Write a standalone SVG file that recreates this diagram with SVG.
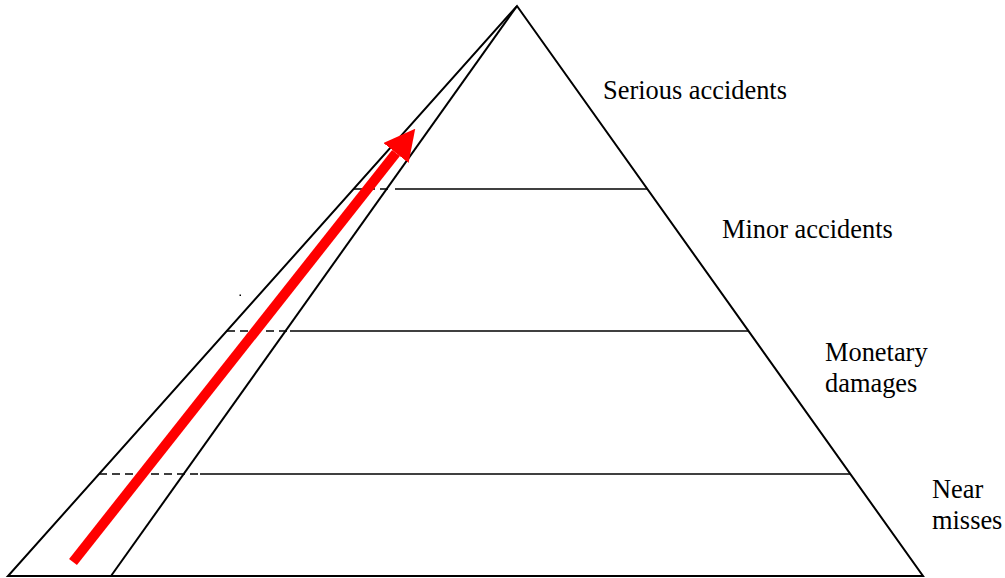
<svg xmlns="http://www.w3.org/2000/svg" width="1005" height="578" viewBox="0 0 1005 578">
<style>
.ol{fill:none;stroke:#000;stroke-width:2;stroke-linejoin:miter}
.lv{fill:none;stroke:#000;stroke-width:1.6}
.ds{fill:none;stroke:#000;stroke-width:1.6;stroke-dasharray:8 5}
.lb{font-family:"Liberation Serif","Times New Roman",serif;font-size:26.4px;fill:#000}
</style>
<defs>
<marker id="ah" markerUnits="userSpaceOnUse" viewBox="0 0 31 32" refX="0" refY="16" markerWidth="31" markerHeight="32" orient="auto">
<path d="M0,0 L31,16 L0,32 Z" fill="#ff0000"/>
</marker>
</defs>
<rect width="1005" height="578" fill="#fff"/>
<g id="pyramid">
<polygon class="ol" points="517,6 923,576 8,576"/>
<line class="ol" x1="517" y1="6" x2="111" y2="576"/>
</g>
<g id="levels">
<line class="ds" x1="354" y1="189" x2="393" y2="189"/>
<line class="lv" x1="395" y1="189" x2="647" y2="189"/>
<line class="ds" x1="227" y1="331" x2="288" y2="331"/>
<line class="lv" x1="290" y1="331" x2="748" y2="331"/>
<line class="ds" x1="99" y1="474" x2="200" y2="474"/>
<line class="lv" x1="200" y1="474" x2="850" y2="474"/>
</g>
<g id="connectors">
<line x1="73" y1="562" x2="396" y2="153" stroke="#ff0000" stroke-width="10" marker-end="url(#ah)"/>
</g>
<rect x="239.5" y="294.5" width="1.5" height="1.5" fill="#000"/>
<g id="label-serious"><text class="lb" x="603" y="99">Serious accidents</text></g>
<g id="label-minor"><text class="lb" x="722" y="238">Minor accidents</text></g>
<g id="label-monetary"><text class="lb" x="825" y="361">Monetary</text><text class="lb" x="825" y="392">damages</text></g>
<g id="label-near"><text class="lb" x="932" y="498">Near</text><text class="lb" x="932" y="529">misses</text></g>
</svg>
